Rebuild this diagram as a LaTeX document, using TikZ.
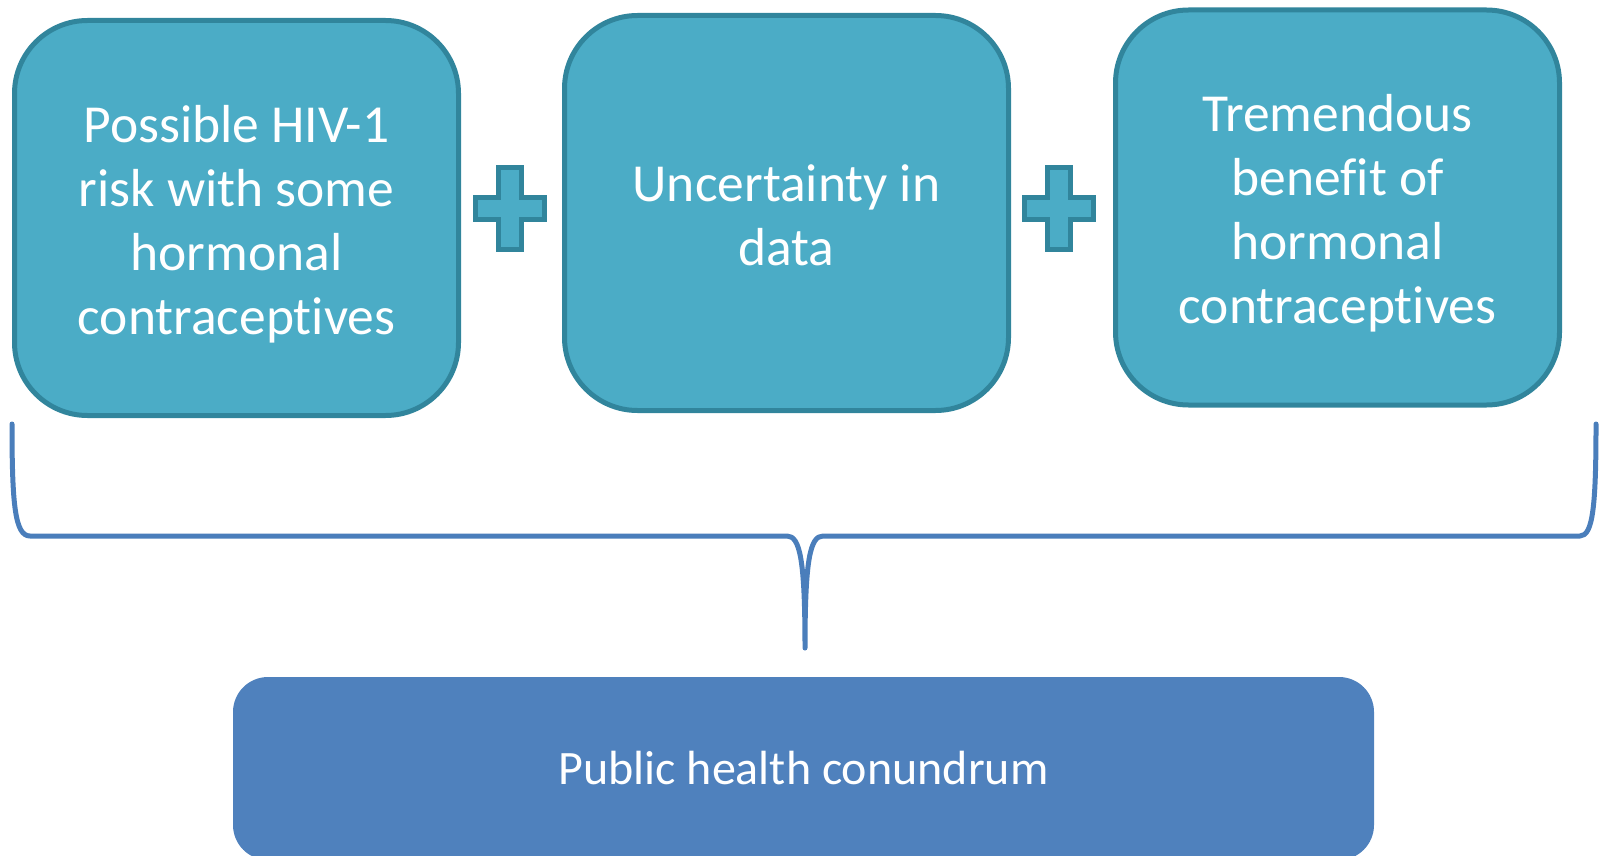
\documentclass[tikz,border=0pt]{standalone}
\usepackage{fontspec}
\setmainfont{Carlito}[Ligatures=NoCommon]
\usepackage{xcolor}
\usetikzlibrary{calc}
\definecolor{aquafill}{RGB}{75,172,198}
\definecolor{aquaedge}{RGB}{49,133,156}
\definecolor{bluefill}{RGB}{79,129,189}
\definecolor{braceline}{RGB}{74,126,187}
\tikzset{
  factorbox/.style={rectangle, rounded corners=73pt, fill=aquafill, draw=aquaedge,
    line width=5pt, minimum width=444pt, minimum height=395pt, inner sep=0pt},
  factortext/.style={text=white, align=center, inner sep=0pt,
    font=\fontsize{53.5}{64}\selectfont},
  resultbox/.style={rectangle, rounded corners=35pt, fill=bluefill,
    minimum width=1141pt, minimum height=183pt, text=white,
    font=\fontsize{48}{58}\selectfont, inner sep=0pt},
  plussign/.style={fill=aquafill, draw=aquaedge, line width=5pt},
}
\begin{document}
\begin{tikzpicture}[x=1pt, y=-1pt]
        \useasboundingbox (0,0) rectangle (1600,856);
        \node[factorbox, label={[factortext, yshift=-6pt]center:{Possible HIV-1\\risk with some\\hormonal\\contraceptives}}] (RISK) at (236.5,218) {};
        \node[factorbox, label={[factortext, yshift=-2pt]center:{Uncertainty in\\data}}] (DATA) at (786.5,213) {};
        \node[factorbox, label={[factortext, yshift=-6pt]center:{Tremendous\\benefit of\\hormonal\\contraceptives}}] (GAIN) at (1337.5,207.5) {};
        \node[resultbox] (CONUNDRUM) at (803.5,768.5) {Public health conundrum};
        % plus signs between the boxes
        \foreach \cx in {510,1059}{
          \draw[plussign] (\cx,208) ++(-11.5,-41) -- ++(23,0) -- ++(0,30) -- ++(23,0)
            -- ++(0,22) -- ++(-23,0) -- ++(0,30) -- ++(-23,0) -- ++(0,-30)
            -- ++(-23,0) -- ++(0,-22) -- ++(23,0) -- cycle;
        }
        % brace under the three boxes
        \coordinate (BL) at (12,424);
        \coordinate (BLC) at (30,536);
        \coordinate (ML) at (787,536);
        \coordinate (TIP) at (805,648);
        \coordinate (MR) at (823,536);
        \coordinate (BRC) at (1580,536);
        \coordinate (BR) at (1596,424);
        \draw[braceline, line width=5pt, line cap=round, line join=round]
          (BL) .. controls (12,505) and (15,536) .. (BLC) -- (ML)
          .. controls (800,536) and (805,560) .. (TIP)
          .. controls (805,560) and (810,536) .. (MR) -- (BRC)
          .. controls (1593,536) and (1596,505) .. (BR);
\end{tikzpicture}
\end{document}
